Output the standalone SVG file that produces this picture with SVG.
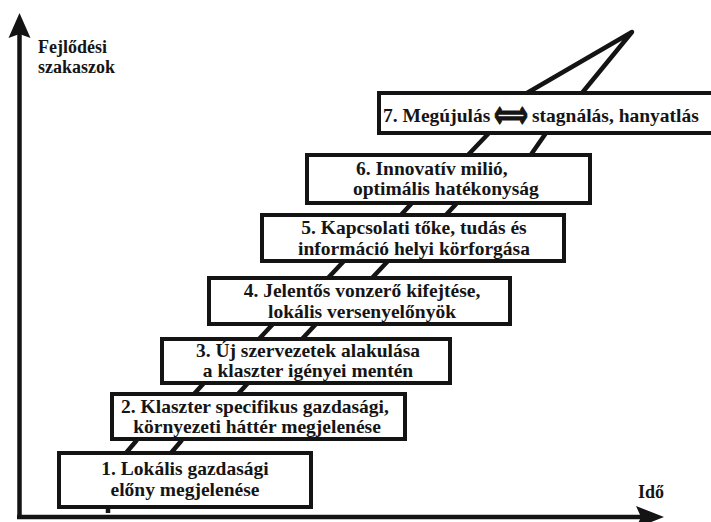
<svg xmlns="http://www.w3.org/2000/svg" width="711" height="522" viewBox="0 0 711 522">
<style>
.box{fill:#fff;stroke:#141414;stroke-width:4;stroke-linejoin:miter}
.t{font-family:"Liberation Serif","Times New Roman","DejaVu Serif",serif;font-weight:bold;font-size:19.5px;fill:#151515}
.c{text-anchor:middle}
.ax{stroke:#141414;stroke-width:4.5;fill:none}
.rail{stroke:#141414;stroke-width:4.5;fill:none;stroke-linecap:butt}
.lbl{font-family:"Liberation Serif","Times New Roman","DejaVu Serif",serif;font-weight:bold;font-size:18px;fill:#151515}
</style>
<rect width="711" height="522" fill="#fff"/>
<g id="axes">
<line class="ax" x1="19.5" y1="519" x2="19.5" y2="32"/>
<polygon points="19.5,13 30.5,38 19.5,34 8.5,38" fill="#141414"/>
<line class="ax" x1="17" y1="517" x2="645" y2="517"/>
<polygon points="664,517 636,506 641,517 636,528" fill="#141414"/>
<text class="lbl" x="38" y="53">Fejlődési</text>
<text class="lbl" x="38" y="73">szakaszok</text>
<text class="lbl" x="638" y="498">Idő</text>
</g>
<g id="connectors">
<line class="rail" x1="126" y1="453" x2="137" y2="440"/>
<line class="rail" x1="171" y1="453" x2="182" y2="440"/>
<line class="rail" x1="194" y1="394" x2="204" y2="383"/>
<line class="rail" x1="238" y1="394" x2="248" y2="383"/>
<line class="rail" x1="259" y1="339" x2="273" y2="324"/>
<line class="rail" x1="302" y1="339" x2="316" y2="324"/>
<line class="rail" x1="328" y1="278" x2="344" y2="261"/>
<line class="rail" x1="372" y1="278" x2="388" y2="261"/>
<line class="rail" x1="400" y1="216" x2="412" y2="203"/>
<line class="rail" x1="445" y1="216" x2="457" y2="203"/>
<line class="rail" x1="467" y1="156" x2="489" y2="133"/>
<line class="rail" x1="530" y1="156" x2="546" y2="133"/>
<polyline class="rail" points="527,93 632,32 582,93" stroke-linejoin="round"/>
<line class="rail" x1="108" y1="507" x2="108" y2="513"/>
</g>
<g id="node1">
<rect class="box" x="59" y="453" width="252" height="54"/>
<text class="t c" x="185" y="475">1. Lokális gazdasági</text>
<text class="t c" x="185" y="496">előny megjelenése</text>
</g>
<g id="node2">
<rect class="box" x="112" y="394" width="293" height="45"/>
<text class="t c" x="255" y="413">2. Klaszter specifikus gazdasági,</text>
<text class="t c" x="257" y="433">környezeti háttér megjelenése</text>
</g>
<g id="node3">
<rect class="box" x="162" y="339" width="288" height="44"/>
<text class="t c" x="308" y="357">3. Új szervezetek alakulása</text>
<text class="t c" x="308" y="377">a klaszter igényei mentén</text>
</g>
<g id="node4">
<rect class="box" x="209" y="278" width="301" height="46"/>
<text class="t c" x="362" y="297">4. Jelentős vonzerő kifejtése,</text>
<text class="t c" x="362" y="318">lokális versenyelőnyök</text>
</g>
<g id="node5">
<rect class="box" x="262" y="215" width="302" height="46"/>
<text class="t c" x="414" y="234">5. Kapcsolati tőke, tudás és</text>
<text class="t c" x="414" y="255">információ helyi körforgása</text>
</g>
<g id="node6">
<rect class="box" x="307" y="155" width="283" height="48"/>
<text class="t" x="356" y="175">6. Innovatív milió,</text>
<text class="t" x="353" y="195">optimális hatékonyság</text>
</g>
<g id="node7">
<rect class="box" x="379" y="93" width="340" height="40"/>
<text class="t" x="383" y="122">7. Megújulás</text>
<text transform="translate(511,127) scale(1.03,1.6)" text-anchor="middle" style="font-family:'DejaVu Sans',sans-serif;font-weight:bold;font-size:23px;fill:#151515;stroke:#151515;stroke-width:0.9px">⟺</text>
<text class="t" x="532" y="122">stagnálás, hanyatlás</text>
</g>
</svg>
